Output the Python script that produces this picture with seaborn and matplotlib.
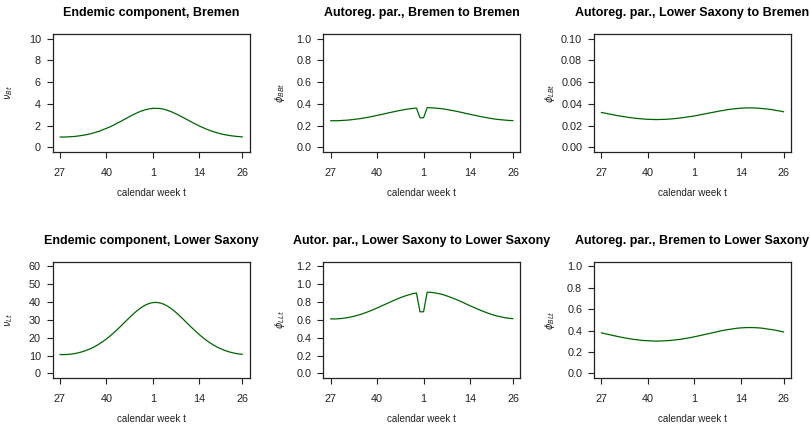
import numpy as np
import pandas as pd
import matplotlib
matplotlib.use("Agg")
import matplotlib.pyplot as plt
import seaborn as sns

# calendar weeks 27..52, 1..26 (one season)
weeks = list(range(27, 53)) + list(range(1, 27))
tick_weeks = [27, 40, 1, 14, 26]

nu_B = [0.95, 0.95, 0.96, 0.98, 1.00, 1.04, 1.09, 1.14, 1.21, 1.29, 1.39, 1.49, 1.62,
        1.75, 1.89, 2.05, 2.22, 2.39, 2.57, 2.75, 2.93, 3.09, 3.24, 3.37, 3.47, 3.55,
        3.59, 3.59, 3.57, 3.51, 3.41, 3.29, 3.15, 2.99, 2.82, 2.65, 2.47, 2.29, 2.12,
        1.96, 1.81, 1.67, 1.54, 1.43, 1.33, 1.24, 1.17, 1.11, 1.06, 1.02, 0.99, 0.96]

phi_BB = [0.245, 0.245, 0.245, 0.247, 0.249, 0.251, 0.255, 0.259, 0.263, 0.268, 0.274,
          0.280, 0.287, 0.294, 0.301, 0.308, 0.316, 0.323, 0.330, 0.337, 0.343, 0.349,
          0.354, 0.358, 0.361, 0.272, 0.273, 0.365, 0.364, 0.362, 0.359, 0.356, 0.351,
          0.345, 0.339, 0.333, 0.326, 0.319, 0.311, 0.304, 0.297, 0.290, 0.283, 0.277,
          0.271, 0.265, 0.260, 0.256, 0.253, 0.250, 0.247, 0.246]

phi_LB = [0.0321, 0.0315, 0.0308, 0.0302, 0.0295, 0.0289, 0.0284, 0.0279, 0.0274,
          0.0270, 0.0266, 0.0263, 0.0260, 0.0258, 0.0257, 0.0256, 0.0256, 0.0257,
          0.0258, 0.0260, 0.0263, 0.0266, 0.0270, 0.0274, 0.0279, 0.0284, 0.0289,
          0.0295, 0.0302, 0.0308, 0.0315, 0.0321, 0.0327, 0.0334, 0.0339, 0.0345,
          0.0350, 0.0354, 0.0357, 0.0360, 0.0362, 0.0363, 0.0363, 0.0362, 0.0360,
          0.0357, 0.0354, 0.0350, 0.0345, 0.0339, 0.0334, 0.0327]

nu_L = [10.55, 10.53, 10.61, 10.79, 11.08, 11.49, 12.00, 12.64, 13.40, 14.30, 15.35,
        16.53, 17.86, 19.34, 20.96, 22.70, 24.55, 26.48, 28.46, 30.44, 32.36, 34.18,
        35.84, 37.26, 38.41, 39.23, 39.68, 39.76, 39.45, 38.78, 37.76, 36.44, 34.87,
        33.10, 31.22, 29.26, 27.27, 25.32, 23.43, 21.64, 19.97, 18.44, 17.05, 15.80,
        14.70, 13.75, 12.93, 12.24, 11.68, 11.23, 10.90, 10.67]

phi_LL = [0.611, 0.610, 0.612, 0.615, 0.620, 0.627, 0.635, 0.645, 0.656, 0.669, 0.684,
          0.699, 0.716, 0.733, 0.751, 0.769, 0.787, 0.806, 0.823, 0.840, 0.856, 0.870,
          0.882, 0.893, 0.901, 0.690, 0.691, 0.910, 0.908, 0.903, 0.896, 0.887, 0.875,
          0.861, 0.846, 0.830, 0.813, 0.795, 0.776, 0.758, 0.740, 0.722, 0.706, 0.690,
          0.675, 0.661, 0.649, 0.639, 0.630, 0.622, 0.617, 0.613]

phi_BL = [0.379, 0.371, 0.364, 0.356, 0.349, 0.342, 0.335, 0.329, 0.323, 0.318, 0.314,
          0.310, 0.307, 0.305, 0.303, 0.302, 0.302, 0.303, 0.305, 0.307, 0.310, 0.314,
          0.318, 0.323, 0.329, 0.335, 0.342, 0.349, 0.356, 0.364, 0.371, 0.379, 0.386,
          0.394, 0.401, 0.407, 0.412, 0.417, 0.422, 0.425, 0.427, 0.428, 0.428, 0.427,
          0.425, 0.422, 0.417, 0.412, 0.407, 0.401, 0.394, 0.386]

titles = ["Endemic component, Bremen", "Autoreg. par., Bremen to Bremen",
          "Autoreg. par., Lower Saxony to Bremen", "Endemic component, Lower Saxony",
          "Autor. par., Lower Saxony to Lower Saxony", "Autoreg. par., Bremen to Lower Saxony"]
ylabels = [r"$\nu_{Bt}$", r"$\phi_{BBt}$", r"$\phi_{LBt}$",
           r"$\nu_{Lt}$", r"$\phi_{LLt}$", r"$\phi_{BLt}$"]
series = [nu_B, phi_BB, phi_LB, nu_L, phi_LL, phi_BL]
yticks = [[0, 2, 4, 6, 8, 10],
          [0.0, 0.2, 0.4, 0.6, 0.8, 1.0],
          [0.00, 0.02, 0.04, 0.06, 0.08, 0.10],
          [0, 10, 20, 30, 40, 50, 60],
          [0.0, 0.2, 0.4, 0.6, 0.8, 1.0, 1.2],
          [0.0, 0.2, 0.4, 0.6, 0.8, 1.0]]
yfmt = ["{:.0f}", "{:.1f}", "{:.2f}", "{:.0f}", "{:.1f}", "{:.1f}"]

sns.set_theme(style="white")
plt.rcParams["font.family"] = ["Liberation Sans", "DejaVu Sans"]

fig = plt.figure(figsize=(8.1, 4.24), dpi=100)
col_left = [52.7, 323.3, 594.0]
W, H = 810.0, 424.0
rows = [(151.7, 117.4), (377.7, 115.7)]  # (bottom px, height px)

idx = np.arange(len(weeks))
tick_pos = [weeks.index(w) for w in tick_weeks]

for k in range(6):
    r, c = divmod(k, 3)
    yb, hh = rows[r]
    ax = fig.add_axes([col_left[c] / W, 1 - yb / H, 197.0 / W, hh / H])
    df = pd.DataFrame({"t": idx, "val": series[k]})
    sns.lineplot(data=df, x="t", y="val", ax=ax, color="#006400", linewidth=0.9)

    n = len(idx) - 1
    ax.set_xlim(-0.04 * n, n * 1.04)
    yt = yticks[k]
    rng = yt[-1] - yt[0]
    ax.set_ylim(yt[0] - 0.04 * rng, yt[-1] + 0.04 * rng)
    ax.set_xticks(tick_pos)
    ax.set_xticklabels([str(w) for w in tick_weeks])
    ax.set_yticks(yt)
    ax.set_yticklabels([yfmt[k].format(v) for v in yt])

    for s in ax.spines.values():
        s.set_visible(True)
        s.set_color("#222222")
        s.set_linewidth(0.9)
    ax.tick_params(axis="both", which="major", direction="out", length=4,
                   width=0.8, color="#222222", labelsize=7.8, labelcolor="#222222")
    ax.tick_params(axis="x", pad=7.5, bottom=True)
    ax.tick_params(axis="y", pad=4.5, left=True)

    ax.set_title(titles[k], fontsize=9.0, fontweight="bold", pad=13, color="black")
    ax.set_xlabel("calendar week t", fontsize=7.1, color="#222222")
    ax.xaxis.label.set_va("center")
    ax.xaxis.set_label_coords(0.5, -41.0 / hh)
    ax.set_ylabel(ylabels[k], fontsize=7.0, color="#222222")
    ax.yaxis.label.set_va("center")
    ax.yaxis.set_label_coords(-0.222, 0.5)

fig.savefig("out.png", dpi=100)
